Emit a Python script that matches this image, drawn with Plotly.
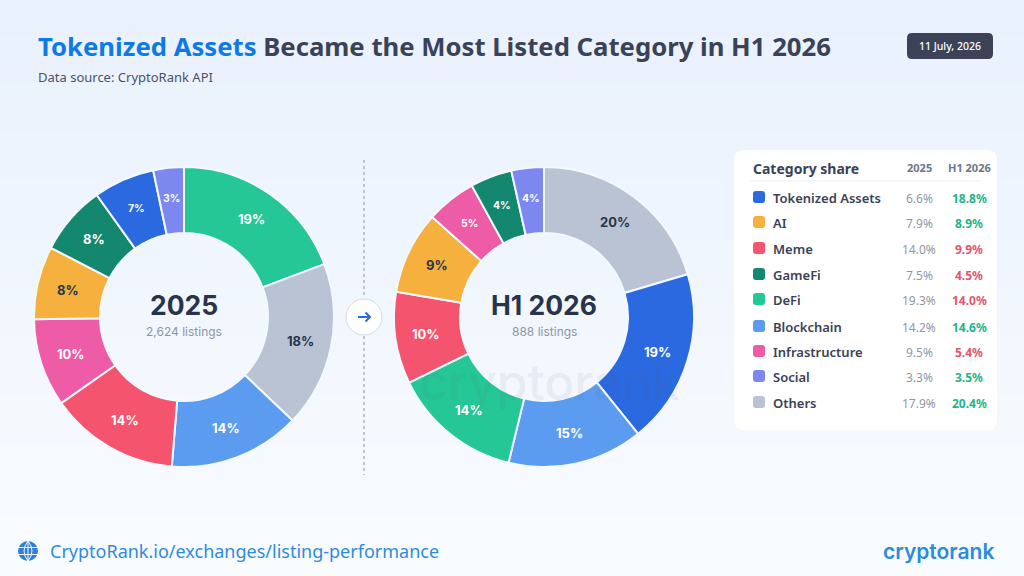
import math
import plotly.graph_objects as go

W, H = 1024, 576

# Shares by category, in the order of the side table
categories = ["Tokenized Assets", "AI", "Meme", "GameFi", "DeFi",
              "Blockchain", "Infrastructure", "Social", "Others"]
share_2025 = [6.6, 7.9, 14.0, 7.5, 19.3, 14.2, 9.5, 3.3, 17.9]
share_2026 = [18.8, 8.9, 9.9, 4.5, 14.0, 14.6, 5.4, 3.5, 20.4]

# Clockwise slice order of each ring, with the printed rounded labels
order_2025 = ["DeFi", "Others", "Blockchain", "Meme", "Infrastructure",
              "AI", "GameFi", "Tokenized Assets", "Social"]
labels_2025 = ["19%", "18%", "14%", "14%", "10%", "8%", "8%", "7%", "3%"]
order_2026 = ["Others", "Tokenized Assets", "Blockchain", "DeFi", "Meme",
              "AI", "Infrastructure", "GameFi", "Social"]
labels_2026 = ["20%", "19%", "15%", "14%", "10%", "9%", "5%", "4%", "4%"]

COLORS = {
    "Tokenized Assets": "#2b69e0", "AI": "#f6b03e", "Meme": "#f4546d",
    "GameFi": "#14876f", "DeFi": "#25c796", "Blockchain": "#5b9bf0",
    "Infrastructure": "#ee5ba6", "Social": "#7c88ef", "Others": "#b9c3d3",
}
DARK_LABEL = {"Others", "AI"}
INK = "#3a4257"
NAVY = "#283449"
MUTED = "#8c96a8"
GREEN = "#1fb58a"
RED = "#e2566f"
LINK = "#2e8ade"
UI = "Noto Sans"
DISPLAY = "Inter"

px = lambda x: x / W
py = lambda y: 1 - y / H


def rounded(x0, y0, x1, y1, r):
    return (f"M{px(x0 + r)},{py(y0)} L{px(x1 - r)},{py(y0)} "
            f"Q{px(x1)},{py(y0)} {px(x1)},{py(y0 + r)} L{px(x1)},{py(y1 - r)} "
            f"Q{px(x1)},{py(y1)} {px(x1 - r)},{py(y1)} L{px(x0 + r)},{py(y1)} "
            f"Q{px(x0)},{py(y1)} {px(x0)},{py(y1 - r)} L{px(x0)},{py(y0 + r)} "
            f"Q{px(x0)},{py(y0)} {px(x0 + r)},{py(y0)} Z")


def path(d, fill="rgba(0,0,0,0)", line=None, width=0, layer="below"):
    return dict(type="path", xref="paper", yref="paper", path=d, fillcolor=fill,
                layer=layer, line=dict(color=line or "rgba(0,0,0,0)", width=width))


def vline(x, y0, y1, color, width, dash=None):
    return dict(type="line", xref="paper", yref="paper", x0=px(x), x1=px(x),
                y0=py(y0), y1=py(y1), layer="below",
                line=dict(color=color, width=width, dash=dash))


def label(x, y, text, size, color, anchor="left", family=UI, weight=None):
    font = dict(size=size, color=color, family=family)
    if weight:
        font["weight"] = weight
    return dict(xref="paper", yref="paper", x=px(x), y=py(y), text=text, font=font,
                xanchor=anchor, yanchor="middle", showarrow=False,
                borderpad=0, borderwidth=0)


def ring(order, shares, cx, cy=317, r=150):
    values = [shares[categories.index(c)] for c in order]
    return go.Pie(
        labels=order, values=values, textinfo="none",
        sort=False, direction="clockwise", rotation=0, hole=0.56,
        domain=dict(x=[px(cx - r), px(cx + r)], y=[py(cy + r), py(cy - r)]),
        marker=dict(colors=[COLORS[c] for c in order], line=dict(color="#f4f8ff", width=2)),
        showlegend=False, hoverinfo="label+value",
    )


def slice_labels(order, shares, text, cx, cy=317, radius=119):
    # Each label sits at the angular middle of its slice, halfway across the band
    values = [shares[categories.index(c)] for c in order]
    total = sum(values)
    out, run = [], 0.0
    for name, v, t in zip(order, values, text):
        mid = (run + v / 2) / total * 2 * math.pi
        run += v
        out.append(label(cx + radius * math.sin(mid), cy - radius * math.cos(mid), t,
                         13 if v >= 7 else 10.5,
                         NAVY if name in DARK_LABEL else "#ffffff",
                         "center", DISPLAY, 700))
    return out


fig = go.Figure([ring(order_2025, share_2025, 184),
                 ring(order_2026, share_2026, 544)])

shapes = []

# Pale vertical wash behind everything
BANDS = 48
for i in range(BANDS):
    t = i / (BANDS - 1)
    c = (round(233 + 16 * t), round(241 + 11 * t), round(253 + 2 * t))
    shapes.append(dict(type="rect", xref="paper", yref="paper", x0=0, x1=1,
                       y0=1 - i / BANDS, y1=1 - (i + 1) / BANDS, layer="below",
                       fillcolor=f"rgb{c}", line=dict(width=0)))

# Divider between the rings and the arrow badge
shapes.append(vline(364, 160, 298, "#aab4c3", 1.5, "dot"))
shapes.append(vline(364, 336, 475, "#aab4c3", 1.5, "dot"))
shapes.append(dict(type="circle", xref="paper", yref="paper", x0=px(346), x1=px(382),
                   y0=py(335), y1=py(299), fillcolor="#ffffff", layer="below",
                   line=dict(color="#d5dbe5", width=1)))
shapes.append(path(f"M{px(358)},{py(317)} L{px(370)},{py(317)} "
                   f"M{px(365.5)},{py(312.5)} L{px(370)},{py(317)} L{px(365.5)},{py(321.5)}",
                   line="#2b69e0", width=2, layer="above"))

# Date pill
shapes.append(path(rounded(907, 33, 993, 59, 5), fill="#3c4358"))

# Table card
shapes.append(path(rounded(734, 150, 997, 430, 10), fill="#ffffff"))
shapes.append(dict(type="line", xref="paper", yref="paper", x0=px(750), x1=px(982),
                   y0=py(181), y1=py(181), layer="below", line=dict(color="#eef1f6", width=1)))

# Globe icon in the footer
shapes.append(dict(type="circle", xref="paper", yref="paper", x0=px(18), x1=px(38),
                   y0=py(561), y1=py(541), fillcolor="#2f7fd8", layer="below", line=dict(width=0)))
shapes.append(path(f"M{px(18)},{py(547.5)} L{px(38)},{py(547.5)} "
                   f"M{px(18)},{py(554.5)} L{px(38)},{py(554.5)} "
                   f"M{px(28)},{py(541)} L{px(28)},{py(561)} "
                   f"M{px(28)},{py(541)} Q{px(20)},{py(551)} {px(28)},{py(561)} "
                   f"M{px(28)},{py(541)} Q{px(36)},{py(551)} {px(28)},{py(561)}",
                   line="#f6f9ff", width=1, layer="above"))

notes = [
    label(549, 382, "cryptorank", 50, "rgba(90,105,130,0.08)", "center", DISPLAY, 500),
    label(38, 47, '<span style="color:#0f7ae5">Tokenized Assets</span> '
                  'Became the Most Listed Category in H1 2026', 25.7, INK, weight=700),
    label(38, 77, "Data source: CryptoRank API", 13, "#4a5266"),
    label(950, 46, "11 July, 2026", 10.5, "#ffffff", "center", weight=500),
    label(184, 305, "2025", 26.5, NAVY, "center", DISPLAY, 700),
    label(184, 331, "2,624 listings", 12, MUTED, "center", DISPLAY),
    label(544, 305, "H1 2026", 26.5, NAVY, "center", DISPLAY, 700),
    label(544, 331, "888 listings", 12, MUTED, "center", DISPLAY),
    label(753, 168, "Category share", 14, INK, weight=700),
    label(919, 167, "2025", 11, "#6e7688", "center", weight=700),
    label(969, 167, "H1 2026", 11, "#6e7688", "center", weight=700),
    label(50, 551, "CryptoRank.io/exchanges/listing-performance", 18, LINK),
    label(994, 551, "cryptorank", 21, "#2b8bdc", "right", DISPLAY, 600),
]
notes += slice_labels(order_2025, share_2025, labels_2025, 184)
notes += slice_labels(order_2026, share_2026, labels_2026, 544)

# Table rows, with the later share tinted by the direction of change
ROW_Y = [198, 223, 249, 275, 300, 327, 352, 377, 403]
for name, a, b, y in zip(categories, share_2025, share_2026, ROW_Y):
    shapes.append(path(rounded(753, y - 7, 765, y + 5, 3), fill=COLORS[name]))
    notes.append(label(773, y, name, 13, INK, weight=600))
    notes.append(label(919, y, f"{a:.1f}%", 12, "#8f97a6", "center"))
    notes.append(label(969, y, f"{b:.1f}%", 12, GREEN if b > a else RED, "center", weight=700))

fig.update_layout(
    width=W, height=H, margin=dict(l=0, r=0, t=0, b=0),
    paper_bgcolor="#f3f7fe", plot_bgcolor="rgba(0,0,0,0)",
    shapes=shapes, annotations=notes,
)

fig.write_html("out.html", config=dict(displayModeBar=False))
